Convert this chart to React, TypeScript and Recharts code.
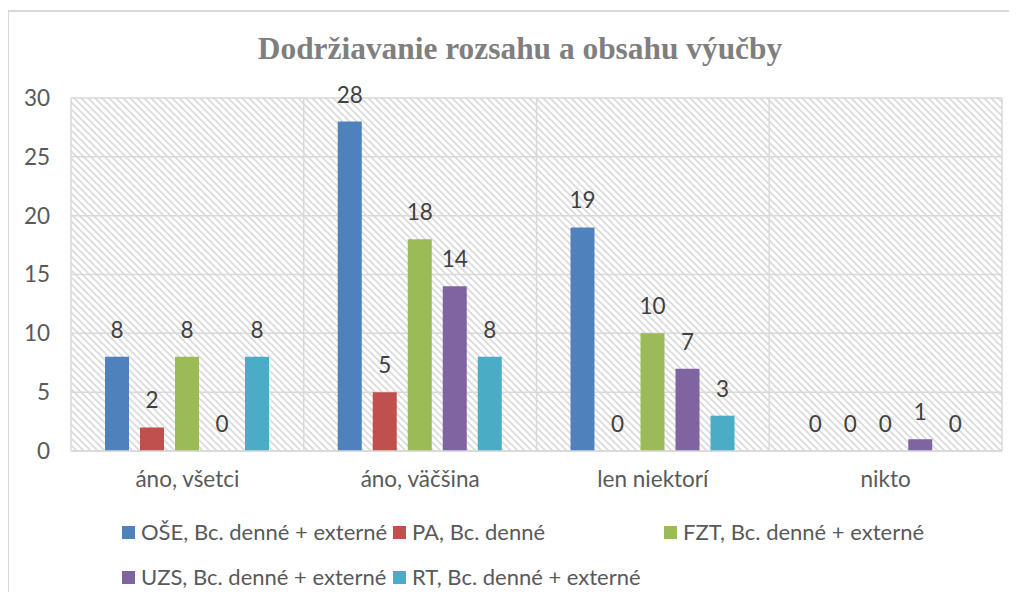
import React from 'react';
import { BarChart, Bar, XAxis, YAxis, CartesianGrid, Legend, LabelList } from 'recharts';

const categories = ['áno, všetci', 'áno, väčšina', 'len niektorí', 'nikto'];
const oseValues = [8, 28, 19, 0];
const paValues = [2, 5, 0, 0];
const fztValues = [8, 18, 10, 0];
const uzsValues = [0, 14, 7, 1];
const rtValues = [8, 8, 3, 0];
const seriesNames = [
  'OŠE, Bc. denné + externé',
  'PA, Bc. denné',
  'FZT, Bc. denné + externé',
  'UZS, Bc. denné + externé',
  'RT, Bc. denné + externé',
];
const seriesColors = ['#4f81bd', '#c0504d', '#9bbb59', '#8064a2', '#4bacc6'];
const yTicks = [0, 5, 10, 15, 20, 25, 30];
const title = 'Dodržiavanie rozsahu a obsahu výučby';

const seriesValues = [oseValues, paValues, fztValues, uzsValues, rtValues];
const keys = ['s0', 's1', 's2', 's3', 's4'];

const data = categories.map((c, i) => {
  const row: Record<string, string | number> = { category: c };
  keys.forEach((k, j) => {
    row[k] = seriesValues[j][i];
  });
  return row;
});

const FONT = 'Lato, "Open Sans", sans-serif';
const TEXT = '#595959';

const renderLegend = (props: any) => {
  const payload = [...(props.payload || [])].sort(
    (a: any, b: any) => seriesNames.indexOf(a.value) - seriesNames.indexOf(b.value)
  );
  return (
    <div style={{ position: 'relative', width: 1000, height: 90, fontFamily: FONT }}>
      {payload.map((p: any, i: number) => {
        const col = i % 3;
        const row = Math.floor(i / 3);
        return (
          <div
            key={i}
            style={{
              position: 'absolute',
              left: 113 + col * 271,
              top: 29 + row * 45,
              display: 'flex',
              alignItems: 'center',
              whiteSpace: 'nowrap',
              height: 24,
            }}
          >
            <span style={{ display: 'inline-block', width: 13, height: 13, background: p.color, marginRight: 6 }} />
            <span style={{ fontSize: 22, color: TEXT, lineHeight: '24px' }}>{p.value}</span>
          </div>
        );
      })}
    </div>
  );
};

export default function App() {
  return (
    <div
      style={{
        marginLeft: -1,
        marginTop: 2,
        width: 1000,
        height: 580,
        borderLeft: '2px solid #d9d9d9',
        borderTop: '2px solid #d9d9d9',
        position: 'relative',
      }}
    >
      <svg width={1000} height={80} style={{ position: 'absolute', left: 0, top: 0, pointerEvents: 'none' }}>
        <text
          x={511}
          y={47}
          textAnchor="middle"
          style={{ fontFamily: '"Liberation Serif", serif', fontWeight: 'bold', fontSize: 31.4, fill: '#7f7f7f' }}
        >
          {title}
        </text>
      </svg>
      <BarChart
        width={1000}
        height={575}
        data={data}
        margin={{ top: 86, right: 7, bottom: 6, left: 0 }}
        barGap={11}
      >
        <defs>
          <pattern id="hatch" width={7} height={7} patternUnits="userSpaceOnUse">
            <rect width={7} height={7} fill="#ffffff" />
            <path d="M-1,-1 L8,8 M-1,6 L1,8 M6,-1 L8,1" stroke="#dadada" strokeWidth={1.6} />
          </pattern>
        </defs>
        <CartesianGrid
          fill="url(#hatch)"
          stroke="#d9d9d9"
          strokeWidth={1.5}
          verticalCoordinatesGenerator={({ offset }: any) =>
            [0, 1, 2, 3, 4].map((i) => offset.left + (i * offset.width) / 4)
          }
        />
        <XAxis
          dataKey="category"
          height={40}
          tickLine={false}
          axisLine={{ stroke: '#d9d9d9', strokeWidth: 1.5 }}
          tickMargin={14}
          tick={{ fill: TEXT, fontSize: 22.5, fontFamily: FONT }}
        />
        <YAxis
          width={62}
          domain={[0, 30]}
          ticks={yTicks}
          interval={0}
          tickLine={false}
          axisLine={false}
          tickMargin={15}
          tick={{ fill: TEXT, fontSize: 22.5, fontFamily: FONT }}
        />
        <Legend verticalAlign="bottom" content={renderLegend} wrapperStyle={{ left: 0, width: 1000 }} />
        {keys.map((k, j) => (
          <Bar
            key={k}
            dataKey={k}
            name={seriesNames[j]}
            fill={seriesColors[j]}
            barSize={24}
            minPointSize={0.01}
            isAnimationActive={false}
          >
            <LabelList
              dataKey={k}
              position="top"
              offset={19}
              style={{ fill: '#404040', fontSize: 22.5, fontFamily: FONT }}
            />
          </Bar>
        ))}
      </BarChart>
    </div>
  );
}
